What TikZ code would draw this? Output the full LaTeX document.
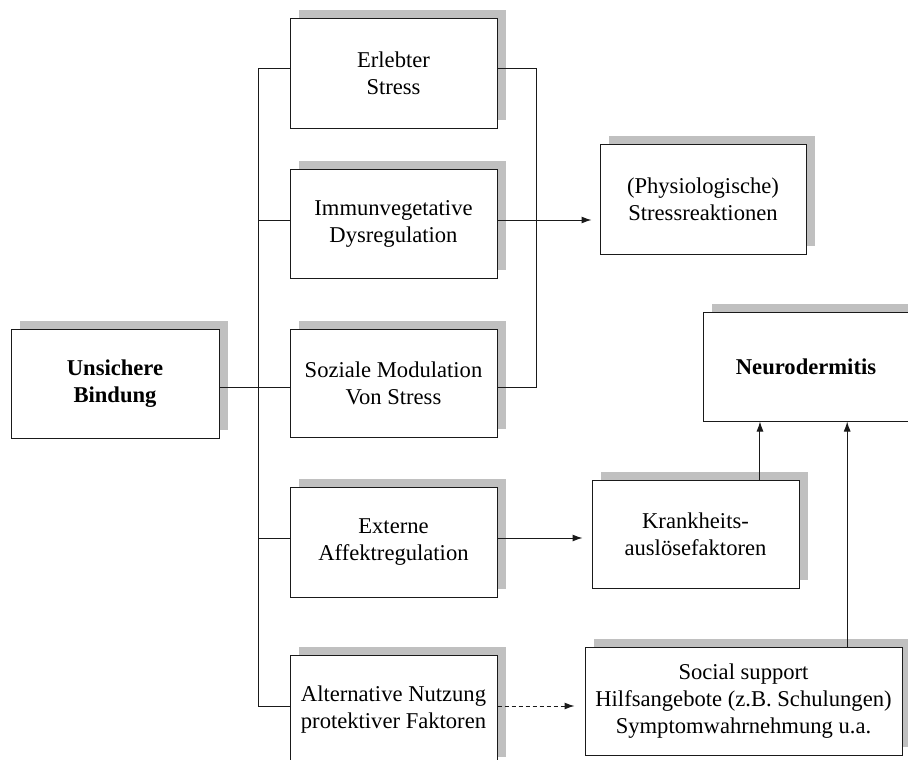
\documentclass[tikz,border=0pt]{standalone}
\usepackage{fontspec}
\setmainfont{Liberation Serif}
\usetikzlibrary{shadows,arrows.meta,calc}
\definecolor{shadegray}{HTML}{C0C0C0}
\definecolor{ink}{HTML}{1A1A1A}
\tikzset{
  box/.style={draw=ink, line width=1pt, fill=white, align=center,
    inner sep=0pt, font=\fontsize{22.6}{27}\selectfont,
    drop shadow={fill=shadegray, opacity=1, shadow xshift=8.5pt, shadow yshift=8.5pt}},
  std/.style={box, minimum width=207pt, minimum height=109pt},
  wire/.style={draw=ink, line width=1pt},
  arr/.style={wire, -{Latex[length=10pt,width=7pt]}},
}
\begin{document}
\begin{tikzpicture}[x=1pt,y=-1pt]
\useasboundingbox (0,0) rectangle (908,760);

% left column
\node[std, minimum width=208pt, font=\fontsize{22.6}{27}\selectfont\bfseries] (ub) at (115,383.5) {Unsichere\\Bindung};

% middle column
\node[std] (erl) at (393.5,73.5)  {Erlebter\\Stress};
\node[std] (imm) at (393.5,223.5) {Immunvegetative\\Dysregulation};
\node[std, minimum height=108pt] (soz) at (393.5,383) {Soziale Modulation\\Von Stress};
\node[std, minimum height=110pt] (ext) at (393.5,542) {Externe\\Affektregulation};
\node[std, minimum height=110pt] (alt) at (393.5,710) {Alternative Nutzung\\protektiver Faktoren};

% right column
\node[std, minimum width=206pt, minimum height=110pt] (str) at (703,199) {(Physiologische)\\Stressreaktionen};
\node[std, minimum width=206pt, font=\fontsize{22.6}{27}\selectfont\bfseries] (neu) at (806,366.5) {Neurodermitis};
\node[std, minimum height=108pt] (kra) at (695.5,534) {Krankheits-\\ausl\"osefaktoren};
\node[box, minimum width=317pt, minimum height=108pt] (soc) at (743.5,701) {Social support\\Hilfsangebote (z.B. Schulungen)\\Symptomwahrnehmung u.a.};

% connector ports on the box sides
\coordinate (erlW) at ($(erl.west)+(0,-4.5)$);
\coordinate (erlE) at ($(erl.east)+(0,-4.5)$);
\coordinate (immW) at ($(imm.west)+(0,-3.5)$);
\coordinate (immE) at ($(imm.east)+(0,-3.5)$);
\coordinate (sozW) at ($(soz.west)+(0,4)$);
\coordinate (sozE) at ($(soz.east)+(0,4)$);
\coordinate (extW) at ($(ext.west)+(0,-4)$);
\coordinate (extE) at ($(ext.east)+(0,-4)$);
\coordinate (altW) at ($(alt.west)+(0,-4)$);
\coordinate (altE) at ($(alt.east)+(0,-4)$);

% vertical bus on the left
\coordinate (lbus) at (258,0);
\draw[wire] (erlW) -| (lbus |- altW) -- (altW);
\draw[wire] (immW) -- (immW -| lbus);
\draw[wire] (extW) -- (extW -| lbus);
\draw[wire] (ub.east |- sozW) -- (sozW);

% bracket on the right joining stress factors
\coordinate (rbus) at (536,0);
\draw[wire] (erlE) -| (rbus |- sozE) -- (sozE);

% arrows
\draw[arr, shorten >=8pt] (immE) -- (immE -| str.west);
\draw[arr, shorten >=9pt] (extE) -- (extE -| kra.west);
\draw[arr, dashed, dash pattern=on 4pt off 3pt, shorten >=10pt] (altE) -- (altE -| soc.west);
\draw[arr] ($(kra.north west)!0.81!(kra.north east)$) coordinate (k1) -- (k1 |- neu.south);
\draw[arr] ($(soc.north west)!0.826!(soc.north east)$) coordinate (s1) -- (s1 |- neu.south);
\end{tikzpicture}
\end{document}
